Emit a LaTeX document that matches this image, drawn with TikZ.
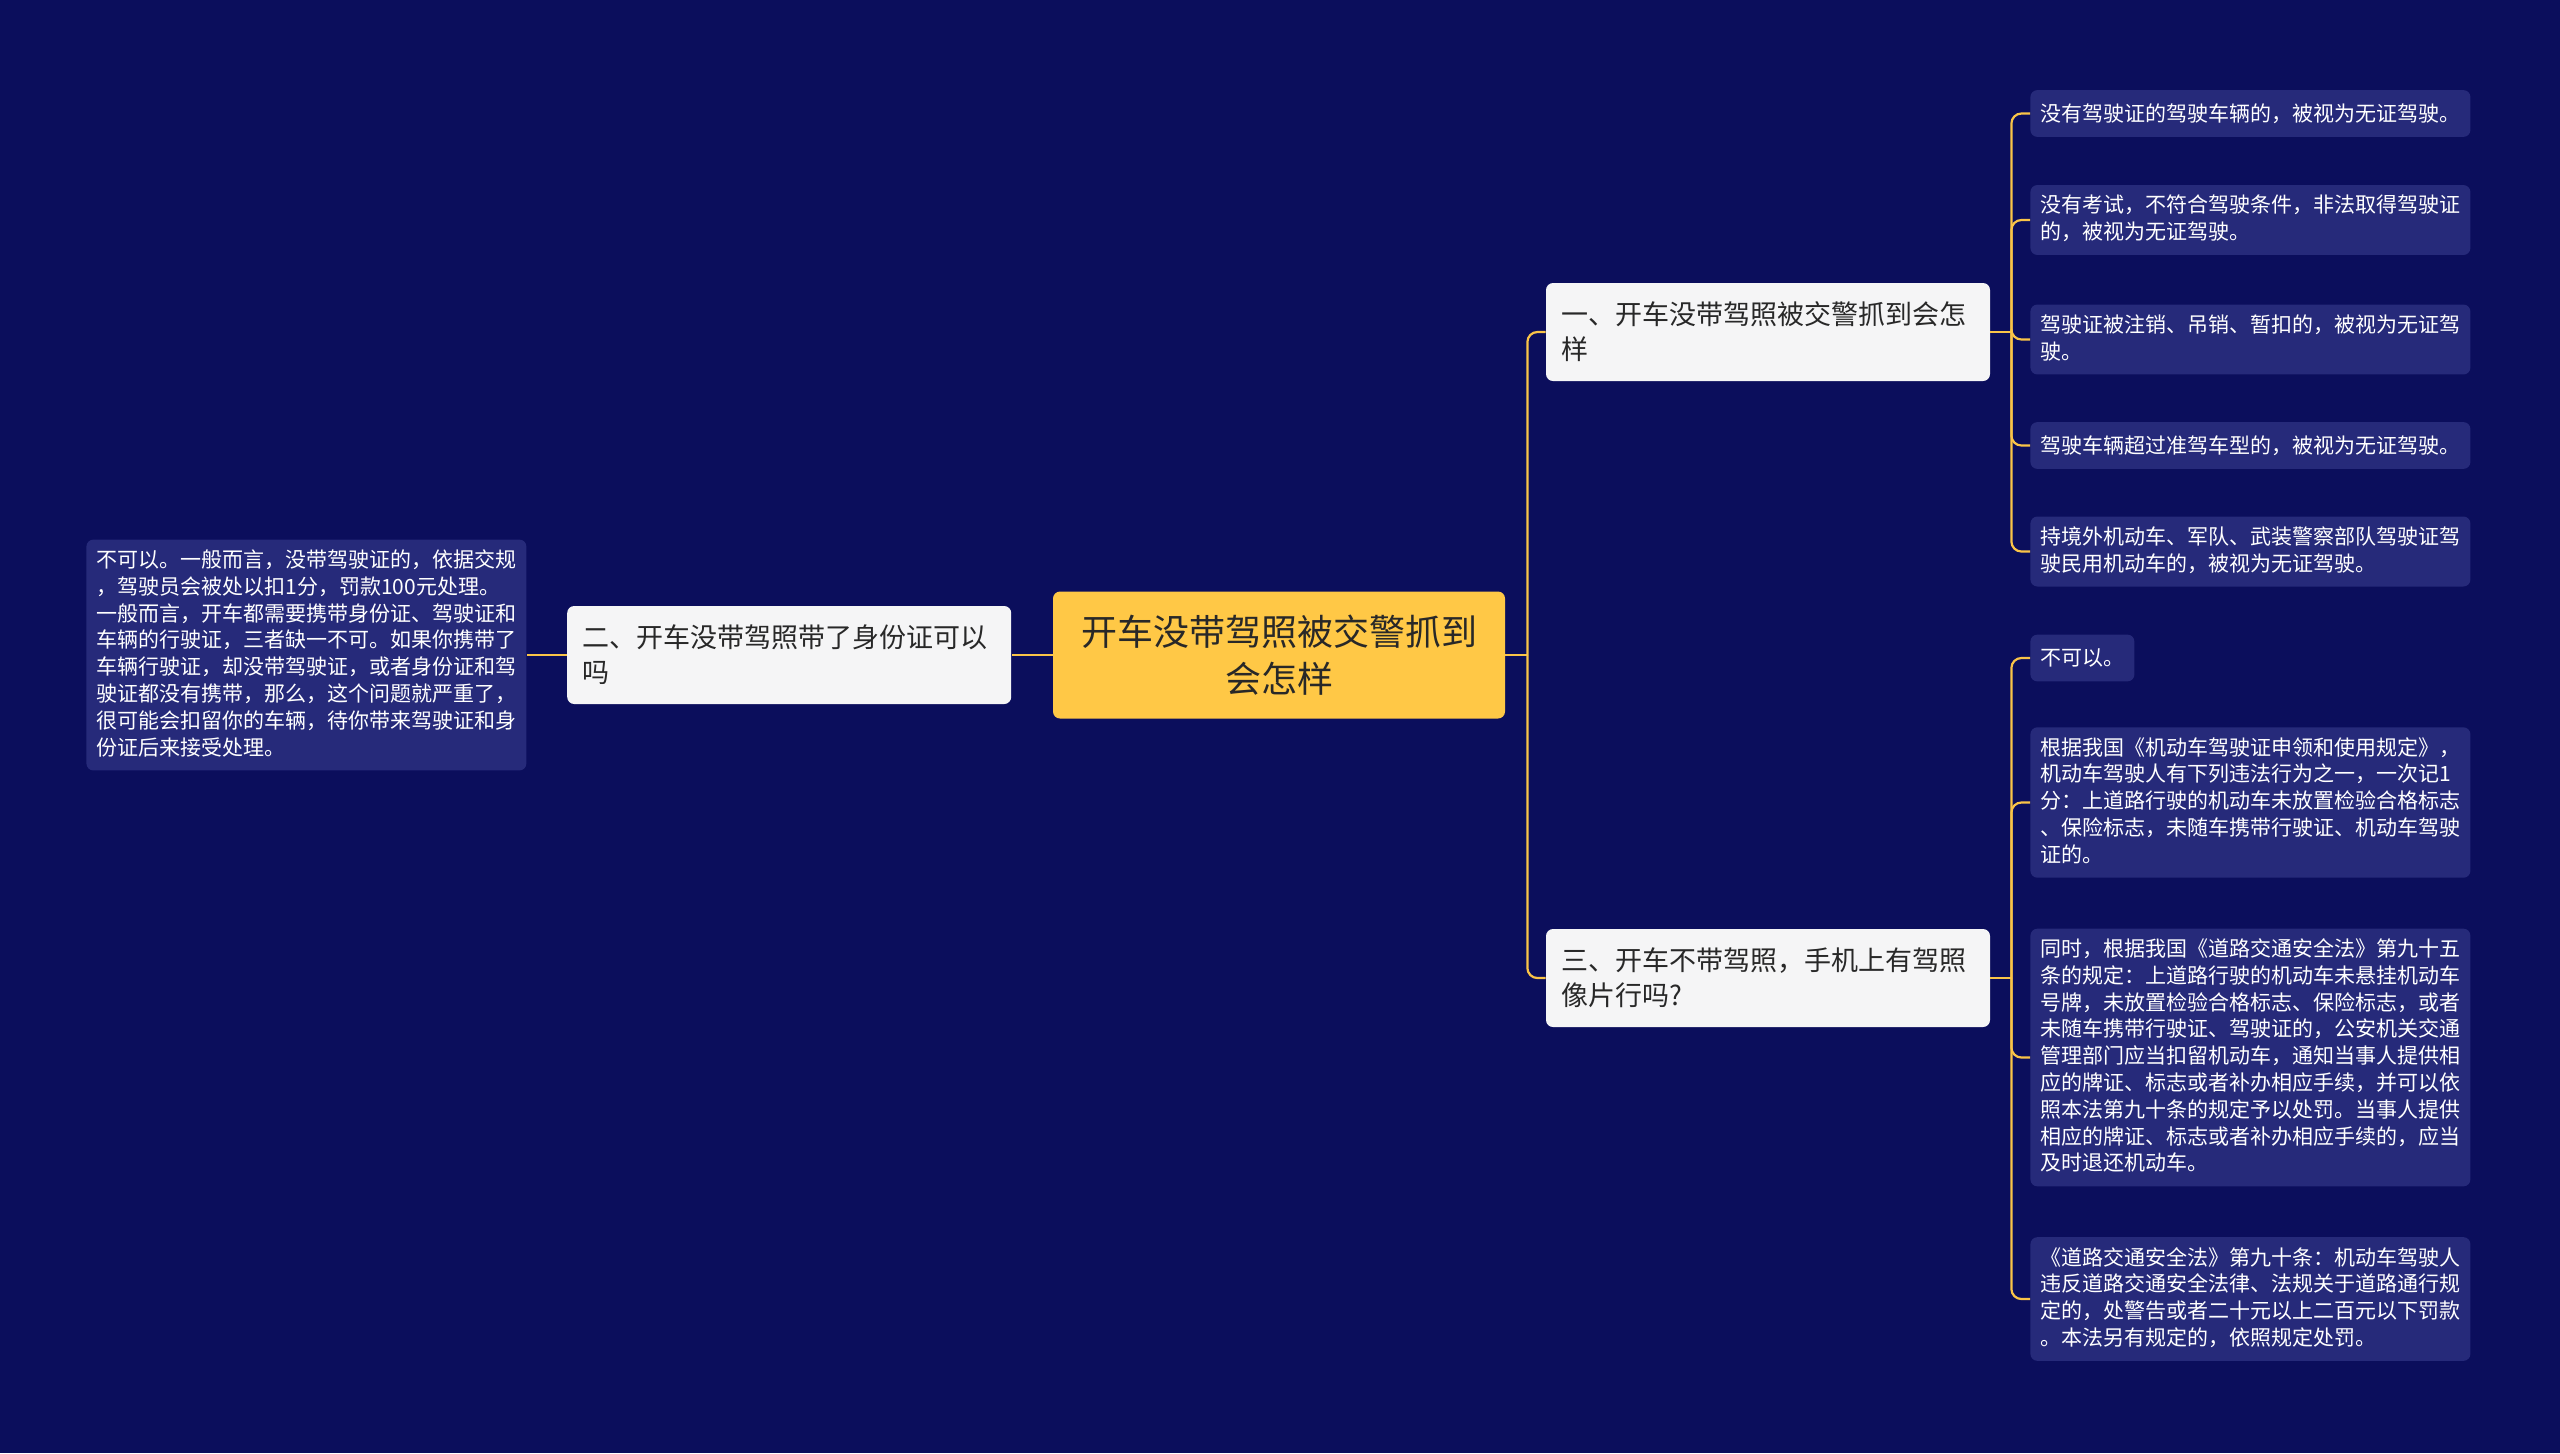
\documentclass[tikz,border=0pt]{standalone}
\usepackage{fontspec}
\setmainfont{Noto Sans CJK SC}
\usetikzlibrary{positioning}

\definecolor{bgnavy}{RGB}{11,14,92}
\definecolor{leafblue}{RGB}{38,42,122}
\definecolor{topicwhite}{RGB}{245,245,246}
\definecolor{rootyellow}{RGB}{255,200,70}
\definecolor{linkyellow}{RGB}{250,196,72}
\definecolor{inkgray}{RGB}{40,40,40}

% strut centred on the CJK glyphs
\newcommand\boxstrut{\rule[\dimexpr 0.38em-0.5\baselineskip\relax]{0pt}{\baselineskip}}

\begin{document}
\begin{tikzpicture}[
    x=0.5pt, y=-0.5pt,
    box/.style={
        rounded corners=3.5pt,
        align=left,
        execute at begin node=\boxstrut,
        execute at end node=\boxstrut,
    },
    root/.style={
        box,
        fill=rootyellow,
        text=inkgray,
        align=center,
        text width=200pt,
        inner xsep=13pt,
        inner ysep=8.25pt,
        font=\fontsize{18pt}{23.5pt}\selectfont,
    },
    topic/.style={
        box,
        fill=topicwhite,
        text=inkgray,
        text width=207pt,
        inner xsep=7.5pt,
        inner ysep=7pt,
        font=\fontsize{13.5pt}{17.5pt}\selectfont,
    },
    leaf/.style={
        box,
        fill=leafblue,
        text=white,
        inner xsep=5pt,
        inner ysep=5pt,
        font=\fontsize{10.5pt}{13.4pt}\selectfont,
    },
    link/.style={
        draw=linkyellow,
        line width=1.1pt,
        rounded corners=5pt,
    },
]

    \fill[bgnavy] (0,0) rectangle (2560,1453);
    \useasboundingbox (0,0) rectangle (2560,1453);

    % centre and left branch
    \node[root] (root) at (1279,655) {开车没带驾照被交警抓到\\会怎样};
    \node[topic, left=20.5pt of root] (q2) {二、开车没带驾照带了身份证可以\\吗};
    \node[leaf, left=20pt of q2] (q2a) {不可以。一般而言，没带驾驶证的，依据交规\\，驾驶员会被处以扣1分，罚款100元处理。\\一般而言，开车都需要携带身份证、驾驶证和\\车辆的行驶证，三者缺一不可。如果你携带了\\车辆行驶证，却没带驾驶证，或者身份证和驾\\驶证都没有携带，那么，这个问题就严重了，\\很可能会扣留你的车辆，待你带来驾驶证和身\\份证后来接受处理。};

    % right branches
    \node[topic] (q1) at (1768,332) {一、开车没带驾照被交警抓到会怎\\样};
    \node[topic] (q3) at (1768,978) {三、开车不带驾照，手机上有驾照\\像片行吗?};

    \node[leaf, anchor=west] (q1a) at (2030,113.5) {没有驾驶证的驾驶车辆的，被视为无证驾驶。};
    \node[leaf, anchor=west] (q1b) at (2030,220) {没有考试，不符合驾驶条件，非法取得驾驶证\\的，被视为无证驾驶。};
    \node[leaf, anchor=west] (q1c) at (2030,339.5) {驾驶证被注销、吊销、暂扣的，被视为无证驾\\驶。};
    \node[leaf, anchor=west] (q1d) at (2030,445.5) {驾驶车辆超过准驾车型的，被视为无证驾驶。};
    \node[leaf, anchor=west] (q1e) at (2030,551.5) {持境外机动车、军队、武装警察部队驾驶证驾\\驶民用机动车的，被视为无证驾驶。};

    \node[leaf, anchor=west] (q3a) at (2030,658) {不可以。};
    \node[leaf, anchor=west] (q3b) at (2030,802.5) {根据我国《机动车驾驶证申领和使用规定》，\\机动车驾驶人有下列违法行为之一，一次记1\\分：上道路行驶的机动车未放置检验合格标志\\、保险标志，未随车携带行驶证、机动车驾驶\\证的。};
    \node[leaf, anchor=west] (q3c) at (2030,1057.5) {同时，根据我国《道路交通安全法》第九十五\\条的规定：上道路行驶的机动车未悬挂机动车\\号牌，未放置检验合格标志、保险标志，或者\\未随车携带行驶证、驾驶证的，公安机关交通\\管理部门应当扣留机动车，通知当事人提供相\\应的牌证、标志或者补办相应手续，并可以依\\照本法第九十条的规定予以处罚。当事人提供\\相应的牌证、标志或者补办相应手续的，应当\\及时退还机动车。};
    \node[leaf, anchor=west] (q3d) at (2030,1299) {《道路交通安全法》第九十条：机动车驾驶人\\违反道路交通安全法律、法规关于道路通行规\\定的，处警告或者二十元以上二百元以下罚款\\。本法另有规定的，依照规定处罚。};

    % connectors
    \coordinate[right=11pt of root.east] (hubR);
    \coordinate[right=10.5pt of q1.east] (hub1);
    \coordinate[right=10.5pt of q3.east] (hub3);

    \draw[link] (root.west) -- (q2.east);
    \draw[link] (q2.west) -- (q2a.east);
    \draw[link] (root.east) -- (hubR);
    \draw[link] (hubR) |- (q1.west);
    \draw[link] (hubR) |- (q3.west);
    \draw[link] (q1.east) -- (hub1);
    \draw[link] (q3.east) -- (hub3);
    \foreach \n in {q1a,q1b,q1c,q1d,q1e}
        \draw[link] (hub1) |- (\n.west);
    \foreach \n in {q3a,q3b,q3c,q3d}
        \draw[link] (hub3) |- (\n.west);

\end{tikzpicture}
\end{document}
